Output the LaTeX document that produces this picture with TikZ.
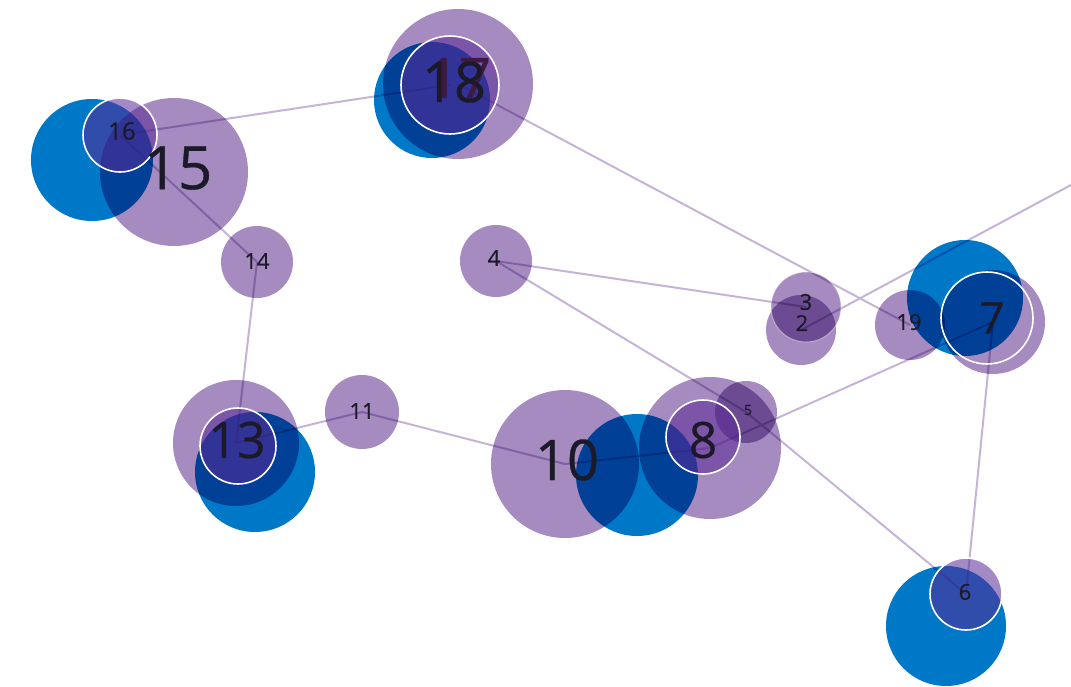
\documentclass[tikz,border=0pt]{standalone}
\usepackage{fontspec}
\setmainfont{Open Sans}
\newfontface\lblface{Open Sans}[FakeBold=0.6]
\definecolor{purp}{HTML}{A68BC1}
\definecolor{blu}{HTML}{0078C8}
\definecolor{edgec}{HTML}{C6B4D8}
\definecolor{ringc}{HTML}{5A2A96}
\definecolor{ink}{HTML}{1C1A28}
\definecolor{inkp}{HTML}{3E1A40}
\tikzset{
  edge/.style={draw=edgec, line width=2pt},
  pc/.style={fill=purp},
  bc/.style={fill=blu},
  ringfill/.style={fill=ringc, fill opacity=0.55},
  ringline/.style={draw=white, line width=1.6pt},
  lbl/.style={text=ink, inner sep=0pt, anchor=center},
}
\newcommand{\fs}[1]{\lblface\fontsize{#1}{#1}\selectfont}
\begin{document}
\begin{tikzpicture}[x=1pt, y=-1pt]
\useasboundingbox (0,0) rectangle (1071,687);
\clip (0,0) rectangle (1071,687);
\fill[white] (0,0) rectangle (1071,687);

% node centres
\coordinate (n2)  at (801,330);
\coordinate (n3)  at (806,307);
\coordinate (n4)  at (496,261);
\coordinate (n5)  at (746,412);
\coordinate (n6)  at (966,594);
\coordinate (n7)  at (993,322);
\coordinate (n8)  at (710,448);
\coordinate (n10) at (565,464);
\coordinate (n11) at (362,412);
\coordinate (n13) at (236,443);
\coordinate (n14) at (257,262);
\coordinate (n15) at (174,172);
\coordinate (n16) at (120,135);
\coordinate (n17) at (458,84);
\coordinate (n18) at (450,85);
\coordinate (n19) at (910,325);
\coordinate (out) at (1110,164);

% secondary measure centres
\coordinate (b7)  at (965,298);
\coordinate (b8)  at (637,475);
\coordinate (b13) at (255,472);
\coordinate (b15) at (92,160);
\coordinate (b6)  at (946,626);
\coordinate (b18) at (432,100);
\coordinate (r7)  at (987,318);
\coordinate (r8)  at (703,437);
\coordinate (r13) at (238,446);

% links
\draw[edge] (n16) -- (n18);
\draw[edge] (n16) -- (n14);
\draw[edge] (n14) -- (n13);
\draw[edge] (n13) -- (n11);
\draw[edge] (n11) -- (n10);
\draw[edge] (n10) -- (n8);
\draw[edge] (n4) -- (n3);
\draw[edge] (n4) -- (n5);
\draw[edge] (n5) -- (n6);
\draw[edge] (n8) -- (n7);
\draw[edge] (n17) -- (n19);
\draw[edge] (n2) -- (out);
\draw[edge] (n7) -- (n6);

% bubbles, multiplied over each other
\begin{scope}[blend mode=multiply]
  \fill[bc] (b15) circle[radius=61];
  \fill[bc] (b18) circle[radius=58];
  \fill[bc] (b13) circle[radius=60];
  \fill[bc] (b8)  circle[radius=61];
  \fill[bc] (b7)  circle[radius=58];
  \fill[bc] (b6)  circle[radius=60];

  \fill[pc] (n15) circle[radius=74];
  \fill[pc] (n17) circle[radius=75];
  \fill[pc] (n14) circle[radius=36];
  \fill[pc] (n4)  circle[radius=36];
  \fill[pc] (n11) circle[radius=37];
  \fill[pc] (n13) circle[radius=63];
  \fill[pc] (n10) circle[radius=74];
  \fill[pc] (n8)  circle[radius=71];
  \fill[pc] (n5)  circle[radius=31];
  \fill[pc] (n3)  circle[radius=35];
  \fill[pc] (n2)  circle[radius=35];
  \fill[pc] (n19) circle[radius=35];
  \fill[pc] (n7)  circle[radius=52];
\end{scope}

% highlighted bubbles
\fill[ringfill] (n16) circle[radius=37];
\fill[ringfill] (n18) circle[radius=49];
\fill[ringfill] (r13) circle[radius=38];
\fill[ringfill] (r8)  circle[radius=37];
\fill[ringfill] (n6)  circle[radius=36];
\draw[ringline] (n16) circle[radius=37];
\draw[ringline] (n18) circle[radius=49];
\draw[ringline] (r13) circle[radius=38];
\draw[ringline] (r8)  circle[radius=37];
\draw[ringline] (r7)  circle[radius=46];
\draw[ringline] (n6)  circle[radius=36];
\draw[white, opacity=0.4, line width=1pt] (n3) circle[radius=35];

% labels
\node[lbl, font=\fs{60}] (l15) at (178,168) {15};
\node[lbl, font=\fs{24}] (l16) at (122,131) {16};
\node[lbl, font=\fs{22}] (l14) at (257,261) {14};
\node[lbl, font=\fs{22}] (l4)  at (494,258) {4};
\node[lbl, font=\fs{22}] (l11) at (362,411) {11};
\node[lbl, font=\fs{50}] (l13) at (237,440) {13};
\node[lbl, font=\fs{56}] (l10) at (567,460) {10};
\node[lbl, font=\fs{50}] (l8)  at (703,440) {8};
\node[lbl, font=\fs{14}] (l5)  at (748,410) {5};
\node[lbl, font=\fs{22}] (l3)  at (806,302) {3};
\node[lbl, font=\fs{22}] (l2)  at (802,323) {2};
\node[lbl, font=\fs{22}] (l19) at (909,322) {19};
\node[lbl, font=\fs{44}] (l7)  at (992,318) {7};
\node[lbl, font=\fs{22}] (l6)  at (965,592) {6};
\node[lbl, font=\fs{56}, text=inkp] (l17) at (459,78) {17};
\node[lbl, font=\fs{56}] (l18) at (454,82) {18};
\end{tikzpicture}
\end{document}
